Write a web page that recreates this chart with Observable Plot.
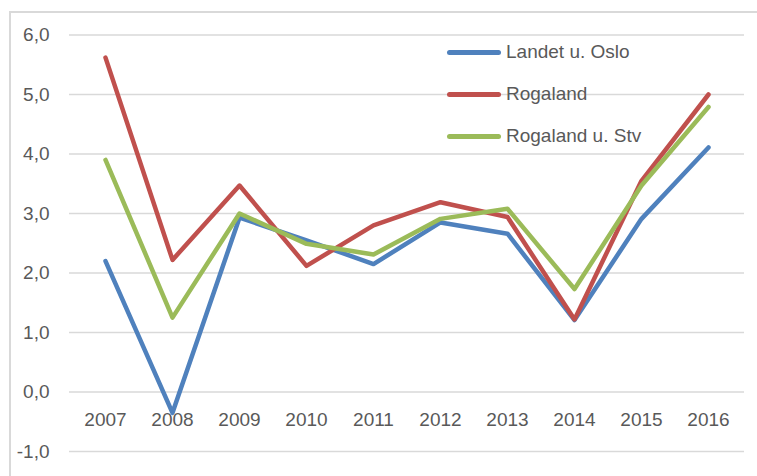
<!DOCTYPE html>
<html>
<head>
<meta charset="utf-8">
<script src="https://cdn.jsdelivr.net/npm/d3@7"></script>
<script src="https://cdn.jsdelivr.net/npm/@observablehq/plot@0.6"></script>
<style>
  html, body { margin: 0; padding: 0; background: #fff; }
  #wrap { position: relative; width: 757px; height: 476px; overflow: hidden; font-family: "Liberation Sans", Arial, sans-serif; }
  #frame { position: absolute; left: 9px; top: 11px; width: 800px; height: 520px; border: 2px solid #d9d9d9; box-sizing: border-box; }
  #chart { position: absolute; left: 0; top: 0; }
  #legend { position: absolute; left: 447px; top: 39px; }
  .item { position: absolute; left: 0; height: 26px; white-space: nowrap; display: flex; align-items: center; color: #595959; font-size: 19px; }
  .sw { width: 54px; height: 5px; border-radius: 3px; margin-right: 5px; }
</style>
</head>
<body>
<div id="wrap">
  <div id="frame"></div>
  <div id="chart"></div>
  <div id="legend"></div>
</div>
<script>
const years = [2007, 2008, 2009, 2010, 2011, 2012, 2013, 2014, 2015, 2016];
const seriesNames = ["Landet u. Oslo", "Rogaland", "Rogaland u. Stv"];
const seriesColors = ["#4f81bd", "#c0504d", "#9bbb59"];
const landetUOslo = [2.2, -0.35, 2.93, 2.55, 2.15, 2.85, 2.66, 1.21, 2.91, 4.11];
const rogaland = [5.62, 2.22, 3.47, 2.12, 2.8, 3.19, 2.94, 1.22, 3.55, 5.0];
const rogalandUStv = [3.9, 1.25, 3.0, 2.49, 2.31, 2.91, 3.08, 1.73, 3.47, 4.79];
const yTicks = [-1, 0, 1, 2, 3, 4, 5, 6];

const seriesValues = [landetUOslo, rogaland, rogalandUStv];
const data = [];
seriesNames.forEach((name, i) => {
  years.forEach((yr, j) => data.push({series: name, year: String(yr), value: seriesValues[i][j]}));
});
const fmt = d => d.toFixed(1).replace(".", ",");

const chart = Plot.plot({
  width: 757,
  height: 476,
  marginLeft: 69,
  marginRight: 13,
  marginTop: 34.5,
  marginBottom: 25,
  style: {fontFamily: "'Liberation Sans', Arial, sans-serif", background: "transparent"},
  x: {type: "point", domain: years.map(String), padding: 0.5, axis: null},
  y: {domain: [-1, 6], axis: null},
  color: {domain: seriesNames, range: seriesColors},
  marks: [
    Plot.ruleY(yTicks, {stroke: "#d9d9d9", strokeWidth: 1.4}),
    Plot.axisY({ticks: yTicks, tickSize: 0, tickPadding: 20, tickFormat: fmt, fontSize: 19, color: "#595959", label: null}),
    Plot.text(years.map(String), {x: d => d, y: () => 0, dy: 28, text: d => d, fontSize: 19, fill: "#595959"}),
    Plot.line(data, {x: "year", y: "value", z: "series", stroke: "series", strokeWidth: 4.5, strokeLinecap: "round", strokeLinejoin: "round"})
  ]
});
document.getElementById("chart").appendChild(chart);

const legend = document.getElementById("legend");
seriesNames.forEach((name, i) => {
  const item = document.createElement("div");
  item.className = "item";
  item.style.top = (i * 42) + "px";
  const sw = document.createElement("div");
  sw.className = "sw";
  sw.style.background = seriesColors[i];
  item.appendChild(sw);
  const t = document.createElement("span");
  t.textContent = name;
  item.appendChild(t);
  legend.appendChild(item);
});
</script>
</body>
</html>
